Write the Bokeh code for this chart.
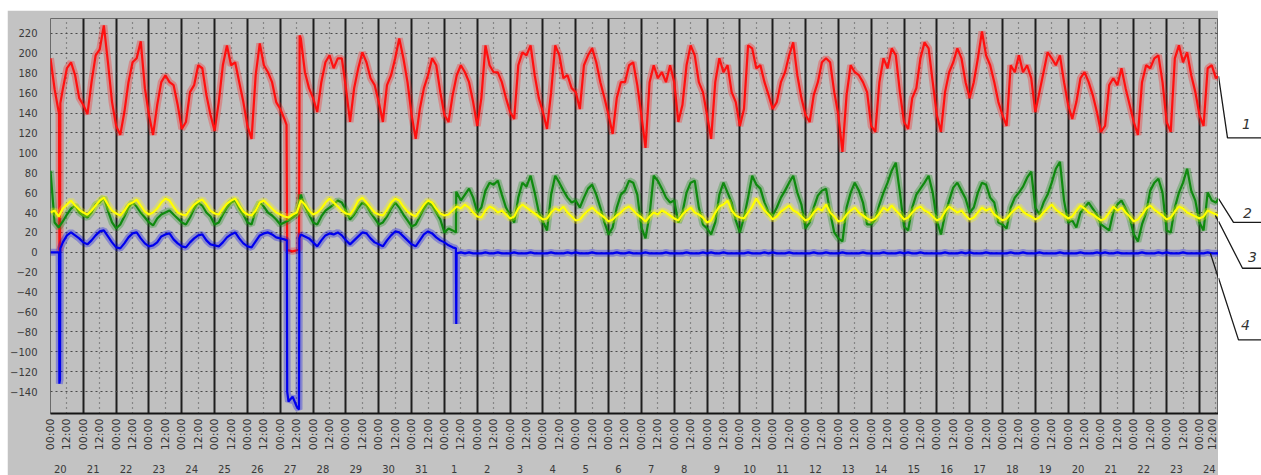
import numpy as np
from bokeh.plotting import figure
from bokeh.models import Range1d, FixedTicker, CustomJSTickFormatter, LinearAxis, Grid, Spacer
from bokeh.layouts import row, column
from bokeh.embed import file_html
from bokeh.resources import INLINE
from bokeh.core.properties import value

# ---------------- data ----------------
DAY_LABELS = ["20", "21", "22", "23", "24", "25", "26", "27", "28", "29", "30", "31",
              "1", "2", "3", "4", "5", "6", "7", "8", "9", "10", "11", "12", "13", "14",
              "15", "16", "17", "18", "19", "20", "21", "22", "23", "24"]
TIME_LABELS = ["00:00", "12:00"]
Y_TICKS = [-140, -120, -100, -80, -60, -40, -20, 0, 20, 40, 60, 80, 100, 120, 140, 160, 180, 200, 220]
STEP = 0.125  # samples every 3 hours (x unit = days)
T_END = 35.58

RED = [
    195, 164, 141, 164, 185, 191, 178, 155,
    148, 139, 171, 198, 204, 228, 191, 151,
    127, 118, 141, 171, 191, 195, 212, 165,
    138, 118, 148, 171, 178, 171, 168, 148,
    124, 131, 161, 168, 188, 185, 158, 138,
    122, 151, 188, 208, 188, 191, 171, 151,
    127, 114, 178, 210, 188, 181, 171, 151,
    144, 134, 2, 1, 2, 215, 181, 165,
    155, 141, 171, 191, 198, 185, 195, 195,
    165, 131, 165, 185, 201, 191, 175, 168,
    151, 131, 168, 178, 195, 215, 195, 171,
    138, 114, 144, 165, 178, 195, 188, 161,
    138, 131, 158, 178, 188, 181, 171, 151,
    127, 155, 208, 188, 181, 181, 171, 155,
    141, 134, 188, 201, 198, 208, 178, 155,
    141, 124, 161, 208, 198, 175, 178, 165,
    161, 144, 188, 198, 205, 191, 171, 155,
    138, 119, 155, 171, 171, 188, 191, 168,
    138, 105, 171, 188, 175, 181, 171, 188,
    171, 131, 148, 188, 208, 198, 171, 161,
    138, 114, 171, 195, 181, 188, 161, 151,
    127, 144, 208, 205, 185, 188, 171, 158,
    144, 151, 171, 181, 198, 211, 178, 155,
    138, 131, 158, 171, 191, 195, 191, 161,
    138, 101, 158, 188, 181, 178, 171, 161,
    127, 121, 171, 195, 185, 205, 198, 161,
    131, 124, 155, 165, 195, 211, 205, 171,
    138, 121, 161, 181, 191, 205, 195, 171,
    155, 171, 195, 222, 198, 188, 171, 151,
    138, 127, 188, 181, 198, 181, 188, 175,
    141, 161, 181, 201, 195, 188, 198, 171,
    148, 134, 151, 175, 181, 171, 158, 141,
    121, 127, 168, 175, 168, 185, 165, 148,
    131, 118, 171, 188, 185, 195, 198, 171,
    131, 121, 195, 208, 191, 201, 178, 161,
    138, 127, 185, 188, 175,
]
RED_EV_T = [0.26, 0.27, 0.29, 0.30, 7.19, 7.21, 7.57, 7.59, T_END]
RED_EV_V = [140, 2, 2, 150, 128, 2, 3, 218, 177]

GREEN = [
    82, 30, 25, 31, 38, 44, 47, 40,
    37, 35, 40, 48, 50, 55, 42, 30,
    24, 28, 36, 45, 50, 46, 40, 35,
    30, 27, 34, 38, 40, 42, 38, 34,
    30, 28, 35, 44, 50, 47, 40, 36,
    28, 30, 38, 45, 50, 52, 44, 38,
    30, 28, 42, 50, 46, 40, 37, 33,
    28, 30, 32, 35, 38, 58, 46, 38,
    30, 28, 36, 42, 45, 48, 52, 50,
    42, 33, 38, 45, 50, 47, 40, 34,
    28, 30, 36, 44, 50, 45, 38, 32,
    26, 28, 36, 44, 50, 47, 40, 33,
    20, 24, 22, 60, 52, 58, 64, 55,
    40, 45, 62, 70, 68, 72, 58, 45,
    37, 30, 55, 70, 66, 77, 60, 40,
    31, 22, 58, 77, 70, 62, 55, 50,
    52, 45, 55, 64, 68, 58, 45, 30,
    18, 25, 45, 58, 62, 72, 70, 58,
    25, 14, 38, 77, 72, 64, 55, 50,
    52, 30, 40, 60, 70, 72, 45, 28,
    24, 18, 30, 58, 70, 60, 50, 32,
    20, 35, 55, 77, 68, 64, 50, 40,
    37, 45, 55, 62, 70, 77, 60, 48,
    24, 30, 45, 57, 62, 64, 40, 20,
    14, 11, 45, 60, 70, 62, 50, 28,
    28, 33, 48, 60, 70, 82, 90, 60,
    26, 22, 45, 58, 64, 70, 77, 60,
    32, 18, 38, 52, 65, 70, 62, 54,
    40, 45, 60, 70, 68, 55, 50, 30,
    28, 24, 45, 55, 60, 66, 75, 81,
    45, 38, 50, 58, 70, 84, 91, 52,
    30, 32, 25, 40, 45, 50, 44, 38,
    28, 25, 22, 40, 48, 52, 44, 35,
    18, 11, 28, 40, 62, 70, 74, 60,
    22, 20, 45, 60, 70, 84, 62, 52,
    30, 22, 60, 52, 50,
]
GREEN_EV_T = [12.35, 12.36, T_END]
GREEN_EV_V = [20, 61, 54]

YELLOW = [
    40, 42, 36, 44, 48, 52, 47, 43,
    40, 38, 42, 47, 52, 55, 48, 42,
    39, 37, 42, 48, 50, 53, 47, 41,
    38, 40, 44, 50, 54, 52, 46, 40,
    38, 37, 43, 48, 51, 53, 48, 42,
    39, 38, 44, 49, 52, 54, 47, 41,
    38, 37, 42, 50, 52, 48, 44, 40,
    38, 36, 35, 38, 40, 52, 48, 42,
    38, 40, 44, 50, 54, 50, 46, 42,
    39, 38, 44, 52, 55, 50, 45, 40,
    38, 37, 43, 50, 54, 52, 46, 41,
    38, 36, 42, 48, 52, 50, 44, 39,
    37, 38, 42, 46, 44, 48, 45, 40,
    36, 35, 42, 46, 44, 40, 42, 38,
    34, 36, 44, 48, 45, 42, 39, 36,
    33, 34, 40, 44, 42, 46, 40, 36,
    32, 33, 38, 42, 45, 41, 38, 35,
    31, 33, 37, 40, 44, 46, 42, 38,
    35, 31, 36, 40, 38, 42, 40, 37,
    34, 32, 38, 42, 45, 40, 38, 35,
    30, 32, 40, 46, 48, 52, 42, 37,
    35, 34, 40, 46, 54, 48, 42, 38,
    33, 36, 41, 44, 47, 42, 40, 36,
    32, 34, 40, 44, 42, 48, 40, 36,
    31, 32, 38, 42, 45, 40, 37, 34,
    32, 34, 39, 45, 42, 47, 42, 38,
    33, 35, 40, 44, 46, 42, 40, 36,
    32, 34, 41, 46, 43, 40, 42, 37,
    33, 35, 40, 45, 42, 44, 38, 35,
    32, 34, 39, 43, 46, 41, 38, 36,
    33, 35, 40, 44, 48, 43, 40, 37,
    34, 36, 42, 47, 44, 40, 38, 35,
    32, 34, 40, 46, 42, 45, 40, 36,
    31, 33, 38, 44, 47, 43, 40, 37,
    33, 35, 41, 46, 44, 40, 38, 36,
    34, 36, 42, 40, 38,
]
YELLOW_EV_T = [T_END]
YELLOW_EV_V = [37]

BLUE = [
    0, 0, 0, 10, 17, 20, 17, 14,
    10, 8, 12, 17, 21, 22, 16, 10,
    5, 4, 9, 15, 19, 20, 14, 9,
    6, 7, 10, 16, 18, 19, 13, 9,
    6, 5, 10, 14, 17, 18, 12, 8,
    7, 6, 10, 15, 18, 20, 14, 9,
    6, 5, 11, 17, 19, 20, 18, 15,
    14, 13, -150, -145, -155, 18, 16, 14,
    10, 6, 12, 17, 19, 18, 20, 17,
    12, 8, 12, 16, 20, 19, 14, 10,
    8, 6, 12, 17, 21, 20, 16, 12,
    8, 6, 12, 18, 21, 19, 15, 12,
    10, 7, 5, -1, 0, -1, 0, -1,
    -1, -1, 0, -1, -1, 0, -1, -1,
    -1, 0, -1, -1, -1, 0, -1, -1,
    -1, -1, 0, -1, -1, -1, 0, -1,
    0, -1, -1, -1, 0, -1, -1, -1,
    -1, -1, 0, -1, -1, 0, -1, -1,
    -1, 0, -1, -1, -1, -1, 0, -1,
    -1, -1, -1, 0, -1, -1, -1, 0,
    -1, 0, -1, -1, 0, -1, -1, -1,
    -1, -1, 0, -1, -1, -1, 0, -1,
    0, -1, -1, -1, 0, -1, -1, -1,
    -1, -1, 0, -1, -1, 0, -1, -1,
    -1, 0, -1, -1, -1, -1, 0, -1,
    -1, -1, -1, 0, -1, -1, -1, 0,
    -1, 0, -1, -1, 0, -1, -1, -1,
    -1, -1, 0, -1, -1, -1, 0, -1,
    0, -1, -1, -1, 0, -1, -1, -1,
    -1, -1, 0, -1, -1, 0, -1, -1,
    -1, 0, -1, -1, -1, -1, 0, -1,
    -1, -1, -1, 0, -1, -1, -1, 0,
    -1, 0, -1, -1, 0, -1, -1, -1,
    -1, -1, 0, -1, -1, -1, 0, -1,
    0, -1, -1, -1, 0, -1, -1, -1,
    -1, -1, 0, -1, -1,
]
BLUE_EV_T = [0.26, 0.27, 0.29, 0.30, 7.20, 7.21, 7.57, 7.58, 12.35, 12.36, 12.37, T_END]
BLUE_EV_V = [0, -132, -128, 4, 12, -140, -158, 14, 4, -72, -1, -1]

LEADER_NAMES = ["1", "2", "3", "4"]


def series(samples, ev_t, ev_v):
    t = [i * STEP for i in range(len(samples))]
    pts = sorted(zip(t + list(ev_t), list(samples) + list(ev_v)))
    return [a for a, _ in pts], [b for _, b in pts]


red_t, red_v = series(RED, RED_EV_T, RED_EV_V)
grn_t, grn_v = series(GREEN, GREEN_EV_T, GREEN_EV_V)
yel_t, yel_v = series(YELLOW, YELLOW_EV_T, YELLOW_EV_V)
blu_t, blu_v = series(BLUE, BLUE_EV_T, BLUE_EV_V)

# ---------------- main chart ----------------
PANEL = "#c3c3c3"
FONT = "DejaVu Sans"
YR = Range1d(-162, 235)

p = figure(width=1211, height=465, x_range=Range1d(0, T_END), y_range=YR,
           output_backend="svg", toolbar_location=None,
           min_border_left=37, min_border_right=0, min_border_top=8, min_border_bottom=62,
           background_fill_color="#c0c0c0", border_fill_color=PANEL)
p.outline_line_color = "#6a6a6a"

# time-of-day axis
xa = p.xaxis[0]
xa.ticker = FixedTicker(ticks=[k * 0.5 for k in range(72)])
xa.formatter = CustomJSTickFormatter(args=dict(labels=TIME_LABELS),
                                     code="return labels[Math.round(tick * 2) % 2];")
xa.major_label_orientation = np.pi / 2
xa.major_label_text_font = FONT
xa.major_label_text_font_size = "11px"
xa.major_label_text_color = "#333333"
xa.major_label_standoff = 5
xa.major_tick_in = 0
xa.major_tick_out = 0
xa.minor_tick_line_color = None
xa.axis_line_color = "#151515"
xa.axis_line_width = 2

# day axis
da = LinearAxis(ticker=FixedTicker(ticks=[k + 0.3 for k in range(len(DAY_LABELS))]),
                formatter=CustomJSTickFormatter(args=dict(labels=DAY_LABELS),
                                                code="return labels[Math.floor(tick)];"))
da.axis_line_color = None
da.major_tick_line_color = None
da.minor_tick_line_color = None
da.major_label_text_font = FONT
da.major_label_text_font_size = "10px"
da.major_label_text_color = "#3a3a3a"
da.major_label_standoff = 5
p.add_layout(da, "below")

ya = p.yaxis[0]
ya.ticker = FixedTicker(ticks=Y_TICKS)
ya.axis_line_color = None
ya.major_tick_line_color = None
ya.minor_tick_line_color = None
ya.major_label_text_font = FONT
ya.major_label_text_font_size = "10px"
ya.major_label_text_color = "#3a3a3a"
ya.major_label_standoff = 7

# grids
p.xgrid.ticker = FixedTicker(ticks=list(range(36)))
p.xgrid.grid_line_color = "#1e1e1e"
p.xgrid.grid_line_width = 2
p.xgrid.grid_line_alpha = 1
p.add_layout(Grid(dimension=0, ticker=FixedTicker(ticks=[k + 0.5 for k in range(36)]),
                  grid_line_color="#4a4a4a", grid_line_dash="1 4", grid_line_width=1.2))
p.ygrid.ticker = FixedTicker(ticks=Y_TICKS)
p.ygrid.grid_line_color = "#4a4a4a"
p.ygrid.grid_line_dash = "2 3"
p.ygrid.grid_line_width = 1

# series: soft band + core line
for t, v, col in [(red_t, red_v, "#ff1010"), (grn_t, grn_v, "#0f8a0f"),
                  (yel_t, yel_v, "#ffff00"), (blu_t, blu_v, "#0000ee")]:
    p.line(t, v, line_color=col, line_width=7, line_alpha=0.3)
    p.line(t, v, line_color=col, line_width=2.2)

# ---------------- leaders (right margin) ----------------
X0 = 44.0       # page px of day 0
PXD = 33.0      # px per day
EDGE = 1218.0   # page px of the right frame edge
ends = [red_v[-1], grn_v[-1], yel_v[-1], blu_v[-1]]
start_px = [1218, 1218, 1215, 1210]
knee_px = [1227, 1233, 1242, 1238]
knee_v = [115, 30, -16, -88]
label_px = [1246, 1247, 1252, 1245]
label_v = [129, 40, -5, -73]

s = figure(width=43, height=465, x_range=Range1d(EDGE, 1261), y_range=YR,
           output_backend="svg", toolbar_location=None,
           x_axis_location=None, y_axis_location=None,
           min_border_left=0, min_border_right=0, min_border_top=8, min_border_bottom=62,
           background_fill_color="white", border_fill_color="white")
s.grid.visible = False
s.outline_line_color = None

for sx, sv, kx, kv in zip(start_px, ends, knee_px, knee_v):
    cv = sv + (kv - sv) * (EDGE - sx) / (kx - sx)
    if sx < EDGE:
        p.line([(sx - X0) / PXD, (EDGE - X0) / PXD], [sv, cv], line_color="#1a1a1a", line_width=1.3)
    s.line([EDGE, kx, 1261], [cv, kv, kv], line_color="#1a1a1a", line_width=1.3)

s.text(x=label_px, y=label_v, text=LEADER_NAMES, text_font=value("DejaVu Sans"),
       text_font_style="italic", text_font_size="14px", text_color="#333333",
       text_align="center", text_baseline="middle")

layout = column(Spacer(width=1261, height=10),
                row(Spacer(width=7, height=465), p, s))

open("out.html", "w").write(file_html(layout, INLINE))
